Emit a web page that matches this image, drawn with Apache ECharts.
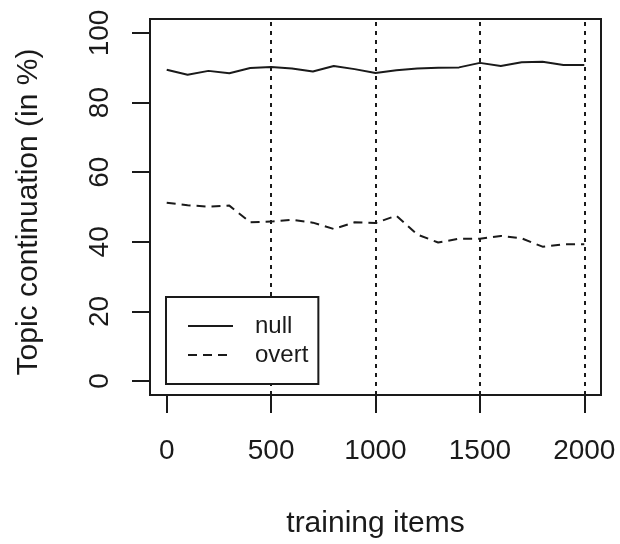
<!DOCTYPE html>
<html>
<head>
<meta charset="utf-8">
<script src="https://cdn.jsdelivr.net/npm/echarts@6/dist/echarts.min.js"></script>
<style>html,body{margin:0;padding:0;background:#fff}#c{width:620px;height:544px}</style>
</head>
<body>
<div id="c"></div>
<script>
const trainingItems = [0,100,200,300,400,500,600,700,800,900,1000,1100,1200,1300,1400,1500,1600,1700,1800,1900,2000];
const nullValues = [89.4,88.0,89.1,88.4,89.9,90.2,89.8,88.9,90.5,89.6,88.5,89.3,89.8,90.0,90.1,91.4,90.5,91.6,91.7,90.8,90.8];
const overtValues = [51.2,50.5,50.1,50.4,45.6,45.8,46.3,45.5,43.7,45.6,45.4,47.5,42.1,39.8,40.9,40.9,41.7,41.0,38.6,39.3,39.3];
const xTicks = [0,500,1000,1500,2000];
const yTicks = [0,20,40,60,80,100];
const refLines = [500,1000,1500,2000];
const seriesNames = ['null','overt'];

const ink = '#1a1a1a';
const font = 'Liberation Sans, Arial, Helvetica, sans-serif';
const chart = echarts.init(document.getElementById('c'), null, {renderer:'canvas'});
chart.setOption({
  animation: false,
  backgroundColor: '#fff',
  textStyle: {fontFamily: font, color: ink},
  grid: {left: 150, top: 19, width: 451, height: 380, show: true, borderColor: ink, borderWidth: 2, backgroundColor: 'transparent', containLabel: false},
  legend: {
    orient: 'vertical', left: 166, top: 297,
    data: seriesNames,
    itemWidth: 45, itemHeight: 14, itemGap: 5,
    padding: [17, 10, 17, 21],
    borderColor: ink, borderWidth: 2, backgroundColor: '#fff',
    itemStyle: {color: 'transparent', borderWidth: 0, opacity: 0},
    textStyle: {fontSize: 24, color: ink, fontFamily: font, padding: [0,0,0,17]},
    z: 10
  },
  xAxis: {
    type: 'value', min: -80, max: 2080,
    name: 'training items', nameLocation: 'middle', nameGap: 114,
    nameTextStyle: {fontSize: 30, color: ink, fontFamily: font},
    axisLine: {show: true, onZero: false, lineStyle: {color: ink, width: 2}},
    axisTick: {show: true, inside: false, length: 18, customValues: xTicks, lineStyle: {color: ink, width: 2}},
    axisLabel: {show: true, customValues: xTicks, margin: 42, fontSize: 28, color: ink, fontFamily: font, formatter: v => String(v)},
    splitLine: {show: false}
  },
  yAxis: {
    type: 'value', min: -4, max: 104,
    name: 'Topic continuation (in %)', nameLocation: 'middle', nameGap: 106, nameRotate: 90,
    nameTextStyle: {fontSize: 30, color: ink, fontFamily: font, padding: [0, 10, 0, 0]},
    axisLine: {show: true, onZero: false, lineStyle: {color: ink, width: 2}},
    axisTick: {show: true, inside: false, length: 18, customValues: yTicks, lineStyle: {color: ink, width: 2}},
    axisLabel: {show: true, customValues: yTicks, rotate: 90, margin: 36, fontSize: 28, color: ink, fontFamily: font, formatter: v => String(v)},
    splitLine: {show: false}
  },
  series: [
    {
      name: seriesNames[0], type: 'line', symbol: 'none', showSymbol: false,
      data: trainingItems.map((x,i)=>[x,nullValues[i]]),
      lineStyle: {color: ink, width: 2, type: 'solid'}, itemStyle: {color: ink},
      markLine: {
        silent: true, symbol: ['none','none'], label: {show: false},
        lineStyle: {color: ink, width: 2, type: [4,5]},
        data: refLines.map(v=>({xAxis: v}))
      }
    },
    {
      name: seriesNames[1], type: 'line', symbol: 'none', showSymbol: false,
      data: trainingItems.map((x,i)=>[x,overtValues[i]]),
      lineStyle: {color: ink, width: 2, type: [9,6]}, itemStyle: {color: ink}
    }
  ]
});
</script>
</body>
</html>
